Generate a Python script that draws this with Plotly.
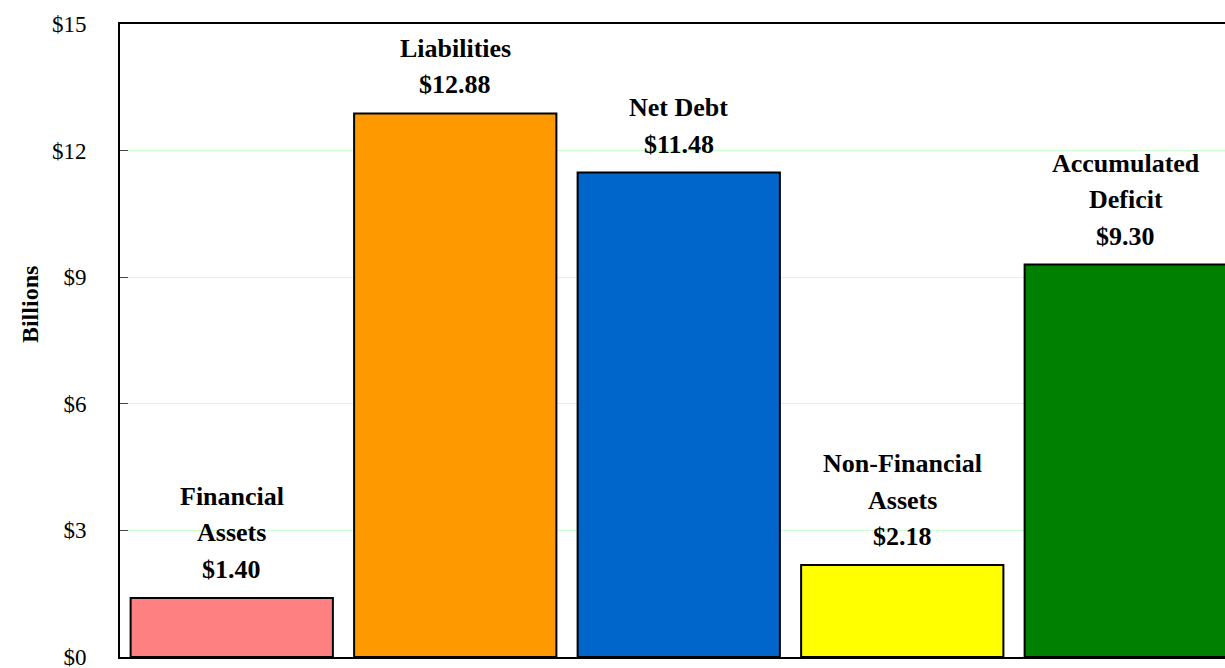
import plotly.graph_objects as go

categories = ["Financial Assets", "Liabilities", "Net Debt", "Non-Financial Assets", "Accumulated Deficit"]
label_lines = [["Financial", "Assets"], ["Liabilities"], ["Net Debt"], ["Non-Financial", "Assets"], ["Accumulated", "Deficit"]]
values = [1.40, 12.88, 11.48, 2.18, 9.30]
colors = ["#FF8080", "#FF9900", "#0066CC", "#FFFF00", "#008000"]
tick_vals = [0, 3, 6, 9, 12, 15]
tick_text = ["$0", "$3", "$6", "$9", "$12", "$15"]

FONT = "Liberation Serif, Times New Roman, serif"
LINE_H = 36.5

fig = go.Figure()
fig.add_trace(go.Bar(
    x=list(range(len(categories))),
    y=values,
    marker=dict(color=colors, line=dict(color="black", width=2)),
    width=0.905,
    hoverinfo="skip",
))

for i, (lines, v) in enumerate(zip(label_lines, values)):
    all_lines = lines + [f"${v:.2f}"]
    for k, txt in enumerate(reversed(all_lines)):
        fig.add_annotation(
            x=i, y=v, xref="x", yref="y",
            text=f"<b>{txt}</b>",
            showarrow=False, yanchor="bottom", xanchor="center",
            yshift=12 + k * LINE_H,
            font=dict(family=FONT, size=26, color="black"),
        )

fig.add_annotation(
    xref="paper", yref="paper", x=0, y=0.556, xshift=-90,
    text="<b>Billions</b>", textangle=-90, showarrow=False,
    xanchor="center", yanchor="middle",
    font=dict(family=FONT, size=24, color="black"),
)

fig.update_layout(
    width=1225, height=668,
    margin=dict(l=120, r=0, t=24, b=11, autoexpand=False),
    paper_bgcolor="white", plot_bgcolor="white",
    showlegend=False,
    font=dict(family=FONT, color="black"),
)
fig.update_xaxes(
    range=[-0.5, 4.444], showticklabels=False, ticks="",
    showgrid=False, zeroline=False,
    showline=True, linecolor="black", linewidth=2, mirror=True,
)
fig.update_yaxes(
    range=[0, 15], tickvals=tick_vals, ticktext=tick_text,
    ticks="inside", ticklen=8, tickcolor="#444444", tickwidth=1,
    ticklabelstandoff=27, ticklabeloverflow="allow",
    tickfont=dict(family=FONT, size=23, color="black"),
    showgrid=True, gridcolor="#CCFFCC", gridwidth=1,
    zeroline=False,
    showline=True, linecolor="black", linewidth=2,
)

fig.write_html(
    "out.html",
    config={"displayModeBar": False},
    post_script="document.body.style.margin='0';document.body.style.overflow='hidden';",
)
